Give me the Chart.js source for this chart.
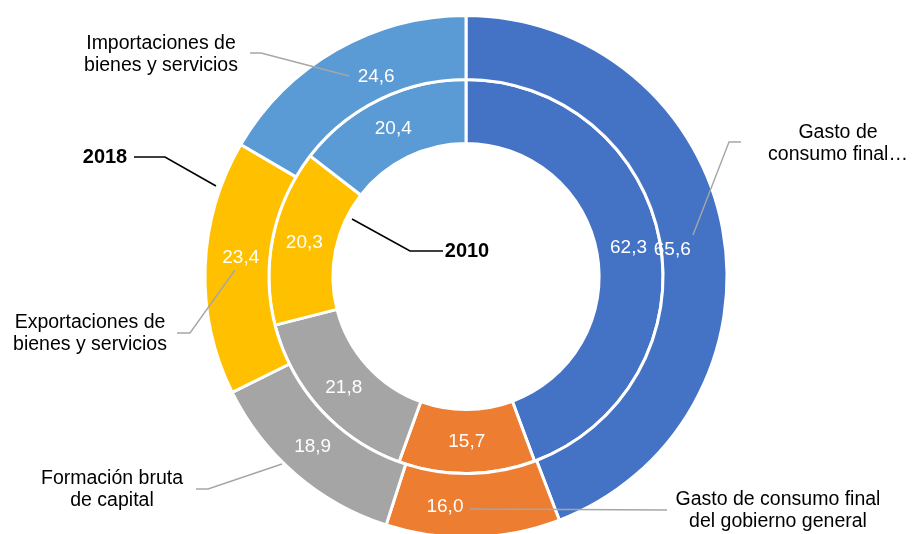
<!DOCTYPE html>
<html>
<head>
<meta charset="utf-8">
<script src="https://cdn.jsdelivr.net/npm/chart.js@4.4.1/dist/chart.umd.min.js"></script>
<style>
  html, body { margin: 0; padding: 0; background: #fff; overflow: hidden; width: 912px; height: 534px; }
  canvas { display: block; }
</style>
</head>
<body>
<canvas id="c" width="912" height="545"></canvas>
<script>
// ---- Data ----
const categories = [
  "Gasto de consumo final de los hogares",
  "Gasto de consumo final del gobierno general",
  "Formación bruta de capital",
  "Exportaciones de bienes y servicios",
  "Importaciones de bienes y servicios"
];
const seriesNames = ["2018", "2010"];
const values2018 = [65.6, 16.0, 18.9, 23.4, 24.6];
const values2010 = [62.3, 15.7, 21.8, 20.3, 20.4];

// ---- Styling ----
const colors = ["#4472C4", "#ED7D31", "#A5A5A5", "#FFC000", "#5B9BD5"];
const FONT = '"Liberation Sans", Arial, sans-serif';

// per-label nudges for the outer ring [deg, px] (Excel hand-placed labels)
const outerNudge = [[3, -21], [6.8, 2], [1.3, 0], [2.8, -3], [5.6, -10]];

// callout texts (category names and series names) with leader lines
const callouts = [
  { lines: ["Importaciones de", "bienes y servicios"], x: 161, y: 44, pts: [[250,53],[261,53],[349,76]], color: "#A6A6A6" },
  { lines: ["Gasto de", "consumo final…"], x: 838, y: 133, pts: [[741,142],[729,142],[693,235]], color: "#A6A6A6" },
  { lines: ["Exportaciones de", "bienes y servicios"], x: 90, y: 323, pts: [[177,333],[190,333],[235,270]], color: "#A6A6A6" },
  { lines: ["Formación bruta", "de capital"], x: 112, y: 479, pts: [[196,489],[208,489],[282,464]], color: "#A6A6A6" },
  { lines: ["Gasto de consumo final", "del gobierno general"], x: 778, y: 500, pts: [[470,509],[667,510]], color: "#A6A6A6" },
  { lines: [seriesNames[0]], x: 105, y: 157, bold: true, pts: [[134,157],[165,157],[216,186]], color: "#000000" },
  { lines: [seriesNames[1]], x: 467, y: 251, bold: true, pts: [[443,251],[410,251],[352,219]], color: "#000000" }
];

const fmt = v => v.toFixed(1).replace(".", ",");

const labelPlugin = {
  id: "labels",
  afterDatasetsDraw(chart) {
    const ctx = chart.ctx;
    ctx.save();
    // value labels
    ctx.font = "19px " + FONT;
    ctx.fillStyle = "#FFFFFF";
    ctx.textAlign = "center";
    ctx.textBaseline = "middle";
    chart.data.datasets.forEach((ds, di) => {
      const meta = chart.getDatasetMeta(di);
      meta.data.forEach((arc, i) => {
        const p = arc.getProps(["x","y","startAngle","endAngle","innerRadius","outerRadius"], true);
        let mid = (p.startAngle + p.endAngle) / 2;
        let r = (p.innerRadius + p.outerRadius) / 2;
        if (di === 0) {
          mid += outerNudge[i][0] * Math.PI / 180;
          r += outerNudge[i][1];
        }
        ctx.fillText(fmt(ds.data[i]), p.x + Math.cos(mid) * r, p.y + Math.sin(mid) * r);
      });
    });
    // callouts
    callouts.forEach(c => {
      ctx.strokeStyle = c.color;
      ctx.lineWidth = c.bold ? 1.6 : 1.4;
      ctx.beginPath();
      c.pts.forEach((pt, k) => k ? ctx.lineTo(pt[0], pt[1]) : ctx.moveTo(pt[0], pt[1]));
      ctx.stroke();
      ctx.fillStyle = "#000000";
      ctx.font = (c.bold ? "bold 20px " : "19.5px ") + FONT;
      c.lines.forEach((t, k) => ctx.fillText(t, c.x, c.y + k * 22));
    });
    ctx.restore();
  }
};

new Chart(document.getElementById("c"), {
  type: "doughnut",
  data: {
    labels: categories,
    datasets: [
      { label: seriesNames[0], data: values2018, backgroundColor: colors, borderColor: "#FFFFFF", borderWidth: 3, hoverOffset: 0 },
      { label: seriesNames[1], data: values2010, backgroundColor: colors, borderColor: "#FFFFFF", borderWidth: 3, hoverOffset: 0 }
    ]
  },
  options: {
    responsive: false,
    animation: false,
    cutout: "51%",
    layout: { padding: { top: 14, bottom: 6, left: 20, right: 0 } },
    plugins: { legend: { display: false }, tooltip: { enabled: false } }
  },
  plugins: [labelPlugin]
});
</script>
</body>
</html>
